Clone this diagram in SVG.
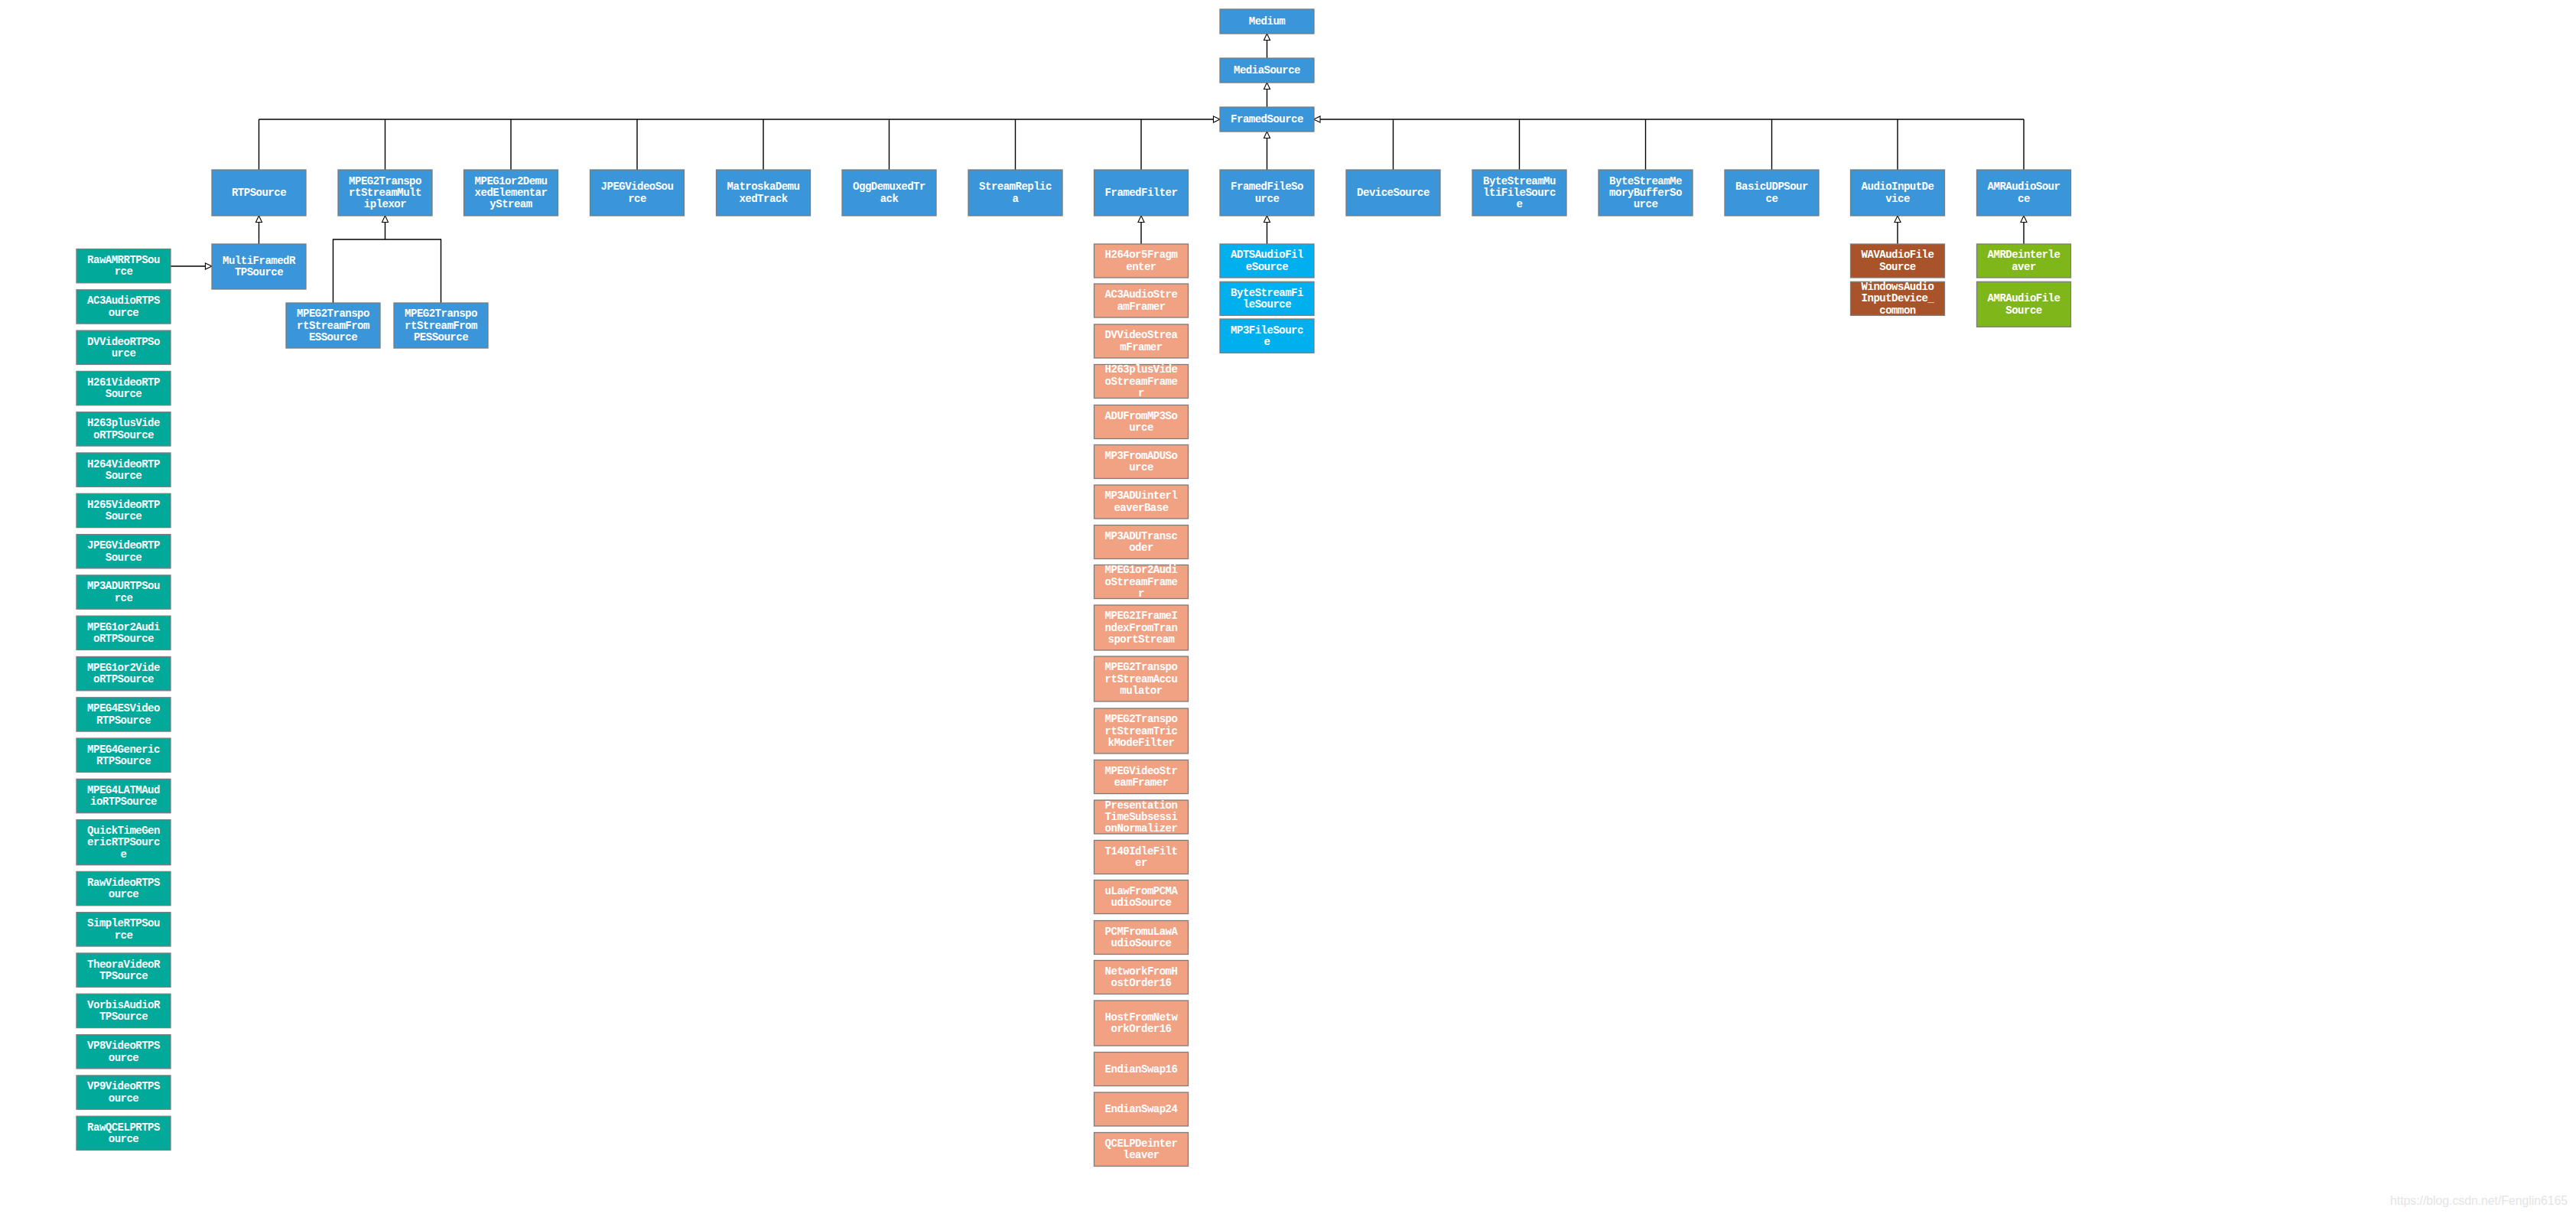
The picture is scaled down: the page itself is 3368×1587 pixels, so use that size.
<svg xmlns="http://www.w3.org/2000/svg" width="3368" height="1587" viewBox="0 0 3368 1587">
<style>
g rect{stroke:#7c7c7c;stroke-width:1.3}
.b{fill:#3A96D8}
.t{fill:#00A99A}
.s{fill:#F0A283}
.c{fill:#00B0EE}
.r{fill:#A9532A}
.g{fill:#7FB71A}
text.l{font-family:"Liberation Mono",monospace;font-weight:bold;font-size:14px;letter-spacing:-0.5px;fill:#fff;text-anchor:middle;dominant-baseline:central}
.wm{font-family:"Liberation Sans",Arial,sans-serif;font-size:16px;fill:#e4e4e4}
#conn path{fill:none;stroke:#000;stroke-width:1.4}
</style>
<defs>
<marker id="tri" viewBox="0 0 10 10" refX="10" refY="5" markerWidth="10" markerHeight="9" markerUnits="userSpaceOnUse" orient="auto" overflow="visible">
<path d="M0.5,0.5 L10,5 L0.5,9.5 z" fill="#fff" stroke="#000" stroke-width="1.2"/>
</marker>
</defs>
<rect x="0" y="0" width="3368" height="1587" fill="#fff"/>

<g id="conn">
<path d="M1656.5,76 V44" marker-end="url(#tri)"/>
<path d="M1656.5,140 V108" marker-end="url(#tri)"/>
<path d="M1656.5,222 V172" marker-end="url(#tri)"/>
<path d="M338.5,156 H1595" marker-end="url(#tri)"/>
<path d="M2646,156 H1717.5" marker-end="url(#tri)"/>
<path d="M338.5,222 V156"/>
<path d="M503.5,222 V156"/>
<path d="M668,222 V156"/>
<path d="M833,222 V156"/>
<path d="M998,222 V156"/>
<path d="M1162.5,222 V156"/>
<path d="M1327.5,222 V156"/>
<path d="M1492,222 V156"/>
<path d="M1821.5,222 V156"/>
<path d="M1986.5,222 V156"/>
<path d="M2151.5,222 V156"/>
<path d="M2316.5,222 V156"/>
<path d="M2481,222 V156"/>
<path d="M2646,222 V156"/>
<path d="M338.5,319 V282" marker-end="url(#tri)"/>
<path d="M223,348 H277" marker-end="url(#tri)"/>
<path d="M435.5,396 V313 H576.5 V396"/>
<path d="M503.5,313 V282" marker-end="url(#tri)"/>
<path d="M1492,319 V282" marker-end="url(#tri)"/>
<path d="M1656.5,319 V282" marker-end="url(#tri)"/>
<path d="M2481,319 V282" marker-end="url(#tri)"/>
<path d="M2646,319 V282" marker-end="url(#tri)"/>
</g>

<g id="n-Medium"><rect class="b" x="1595" y="12" width="123" height="32"/><text class="l" x="1656.5" y="28">Medium</text></g>
<g id="n-MediaSource"><rect class="b" x="1595" y="76" width="123" height="32"/><text class="l" x="1656.5" y="92">MediaSource</text></g>
<g id="n-FramedSource"><rect class="b" x="1595" y="140" width="123" height="32"/><text class="l" x="1656.5" y="156">FramedSource</text></g>

<g id="n-RTPSource"><rect class="b" x="277" y="222" width="123" height="60"/><text class="l" x="338.5" y="252">RTPSource</text></g>
<g id="n-MPEG2TransportStreamMultiplexor"><rect class="b" x="442" y="222" width="123" height="60"/><text class="l"><tspan x="503.5" y="236.6">MPEG2Transpo</tspan><tspan x="503.5" y="252">rtStreamMult</tspan><tspan x="503.5" y="267.4">iplexor</tspan></text></g>
<g id="n-MPEG1or2DemuxedElementaryStream"><rect class="b" x="606.5" y="222" width="123" height="60"/><text class="l"><tspan x="668" y="236.6">MPEG1or2Demu</tspan><tspan x="668" y="252">xedElementar</tspan><tspan x="668" y="267.4">yStream</tspan></text></g>
<g id="n-JPEGVideoSource"><rect class="b" x="771.5" y="222" width="123" height="60"/><text class="l"><tspan x="833" y="244.3">JPEGVideoSou</tspan><tspan x="833" y="259.7">rce</tspan></text></g>
<g id="n-MatroskaDemuxedTrack"><rect class="b" x="936.5" y="222" width="123" height="60"/><text class="l"><tspan x="998" y="244.3">MatroskaDemu</tspan><tspan x="998" y="259.7">xedTrack</tspan></text></g>
<g id="n-OggDemuxedTrack"><rect class="b" x="1101" y="222" width="123" height="60"/><text class="l"><tspan x="1162.5" y="244.3">OggDemuxedTr</tspan><tspan x="1162.5" y="259.7">ack</tspan></text></g>
<g id="n-StreamReplica"><rect class="b" x="1266" y="222" width="123" height="60"/><text class="l"><tspan x="1327.5" y="244.3">StreamReplic</tspan><tspan x="1327.5" y="259.7">a</tspan></text></g>
<g id="n-FramedFilter"><rect class="b" x="1430.5" y="222" width="123" height="60"/><text class="l" x="1492" y="252">FramedFilter</text></g>
<g id="n-FramedFileSource"><rect class="b" x="1595" y="222" width="123" height="60"/><text class="l"><tspan x="1656.5" y="244.3">FramedFileSo</tspan><tspan x="1656.5" y="259.7">urce</tspan></text></g>
<g id="n-DeviceSource"><rect class="b" x="1760" y="222" width="123" height="60"/><text class="l" x="1821.5" y="252">DeviceSource</text></g>
<g id="n-ByteStreamMultiFileSource"><rect class="b" x="1925" y="222" width="123" height="60"/><text class="l"><tspan x="1986.5" y="236.6">ByteStreamMu</tspan><tspan x="1986.5" y="252">ltiFileSourc</tspan><tspan x="1986.5" y="267.4">e</tspan></text></g>
<g id="n-ByteStreamMemoryBufferSource"><rect class="b" x="2090" y="222" width="123" height="60"/><text class="l"><tspan x="2151.5" y="236.6">ByteStreamMe</tspan><tspan x="2151.5" y="252">moryBufferSo</tspan><tspan x="2151.5" y="267.4">urce</tspan></text></g>
<g id="n-BasicUDPSource"><rect class="b" x="2255" y="222" width="123" height="60"/><text class="l"><tspan x="2316.5" y="244.3">BasicUDPSour</tspan><tspan x="2316.5" y="259.7">ce</tspan></text></g>
<g id="n-AudioInputDevice"><rect class="b" x="2419.5" y="222" width="123" height="60"/><text class="l"><tspan x="2481" y="244.3">AudioInputDe</tspan><tspan x="2481" y="259.7">vice</tspan></text></g>
<g id="n-AMRAudioSource"><rect class="b" x="2584.5" y="222" width="123" height="60"/><text class="l"><tspan x="2646" y="244.3">AMRAudioSour</tspan><tspan x="2646" y="259.7">ce</tspan></text></g>

<g id="n-MultiFramedRTPSource"><rect class="b" x="277" y="319" width="123" height="59"/><text class="l"><tspan x="338.5" y="340.8">MultiFramedR</tspan><tspan x="338.5" y="356.2">TPSource</tspan></text></g>
<g id="n-MPEG2TransportStreamFromESSource"><rect class="b" x="374" y="396" width="123" height="59"/><text class="l"><tspan x="435.5" y="410.1">MPEG2Transpo</tspan><tspan x="435.5" y="425.5">rtStreamFrom</tspan><tspan x="435.5" y="440.9">ESSource</tspan></text></g>
<g id="n-MPEG2TransportStreamFromPESSource"><rect class="b" x="515" y="396" width="123" height="59"/><text class="l"><tspan x="576.5" y="410.1">MPEG2Transpo</tspan><tspan x="576.5" y="425.5">rtStreamFrom</tspan><tspan x="576.5" y="440.9">PESSource</tspan></text></g>

<g id="n-RawAMRRTPSource"><rect class="t" x="100" y="325.5" width="123" height="44.3"/><text class="l"><tspan x="161.5" y="340">RawAMRRTPSou</tspan><tspan x="161.5" y="355.4">rce</tspan></text></g>
<g id="n-AC3AudioRTPSource"><rect class="t" x="100" y="378.8" width="123" height="44.3"/><text class="l"><tspan x="161.5" y="393.3">AC3AudioRTPS</tspan><tspan x="161.5" y="408.7">ource</tspan></text></g>
<g id="n-DVVideoRTPSource"><rect class="t" x="100" y="432.1" width="123" height="44.3"/><text class="l"><tspan x="161.5" y="446.6">DVVideoRTPSo</tspan><tspan x="161.5" y="462">urce</tspan></text></g>
<g id="n-H261VideoRTPSource"><rect class="t" x="100" y="485.4" width="123" height="44.3"/><text class="l"><tspan x="161.5" y="499.9">H261VideoRTP</tspan><tspan x="161.5" y="515.3">Source</tspan></text></g>
<g id="n-H263plusVideoRTPSource"><rect class="t" x="100" y="538.7" width="123" height="44.3"/><text class="l"><tspan x="161.5" y="553.2">H263plusVide</tspan><tspan x="161.5" y="568.6">oRTPSource</tspan></text></g>
<g id="n-H264VideoRTPSource"><rect class="t" x="100" y="592" width="123" height="44.3"/><text class="l"><tspan x="161.5" y="606.5">H264VideoRTP</tspan><tspan x="161.5" y="621.9">Source</tspan></text></g>
<g id="n-H265VideoRTPSource"><rect class="t" x="100" y="645.3" width="123" height="44.3"/><text class="l"><tspan x="161.5" y="659.8">H265VideoRTP</tspan><tspan x="161.5" y="675.2">Source</tspan></text></g>
<g id="n-JPEGVideoRTPSource"><rect class="t" x="100" y="698.6" width="123" height="44.3"/><text class="l"><tspan x="161.5" y="713.1">JPEGVideoRTP</tspan><tspan x="161.5" y="728.5">Source</tspan></text></g>
<g id="n-MP3ADURTPSource"><rect class="t" x="100" y="751.9" width="123" height="44.3"/><text class="l"><tspan x="161.5" y="766.4">MP3ADURTPSou</tspan><tspan x="161.5" y="781.8">rce</tspan></text></g>
<g id="n-MPEG1or2AudioRTPSource"><rect class="t" x="100" y="805.2" width="123" height="44.3"/><text class="l"><tspan x="161.5" y="819.7">MPEG1or2Audi</tspan><tspan x="161.5" y="835.1">oRTPSource</tspan></text></g>
<g id="n-MPEG1or2VideoRTPSource"><rect class="t" x="100" y="858.5" width="123" height="44.3"/><text class="l"><tspan x="161.5" y="873">MPEG1or2Vide</tspan><tspan x="161.5" y="888.4">oRTPSource</tspan></text></g>
<g id="n-MPEG4ESVideoRTPSource"><rect class="t" x="100" y="911.8" width="123" height="44.3"/><text class="l"><tspan x="161.5" y="926.3">MPEG4ESVideo</tspan><tspan x="161.5" y="941.7">RTPSource</tspan></text></g>
<g id="n-MPEG4GenericRTPSource"><rect class="t" x="100" y="965.1" width="123" height="44.3"/><text class="l"><tspan x="161.5" y="979.6">MPEG4Generic</tspan><tspan x="161.5" y="995">RTPSource</tspan></text></g>
<g id="n-MPEG4LATMAudioRTPSource"><rect class="t" x="100" y="1018.4" width="123" height="44.3"/><text class="l"><tspan x="161.5" y="1032.9">MPEG4LATMAud</tspan><tspan x="161.5" y="1048.3">ioRTPSource</tspan></text></g>
<g id="n-QuickTimeGenericRTPSource"><rect class="t" x="100" y="1071.7" width="123" height="59"/><text class="l"><tspan x="161.5" y="1085.8">QuickTimeGen</tspan><tspan x="161.5" y="1101.2">ericRTPSourc</tspan><tspan x="161.5" y="1116.6">e</tspan></text></g>
<g id="n-RawVideoRTPSource"><rect class="t" x="100" y="1139.4" width="123" height="44.3"/><text class="l"><tspan x="161.5" y="1153.9">RawVideoRTPS</tspan><tspan x="161.5" y="1169.3">ource</tspan></text></g>
<g id="n-SimpleRTPSource"><rect class="t" x="100" y="1192.7" width="123" height="44.3"/><text class="l"><tspan x="161.5" y="1207.2">SimpleRTPSou</tspan><tspan x="161.5" y="1222.6">rce</tspan></text></g>
<g id="n-TheoraVideoRTPSource"><rect class="t" x="100" y="1246" width="123" height="44.3"/><text class="l"><tspan x="161.5" y="1260.5">TheoraVideoR</tspan><tspan x="161.5" y="1275.9">TPSource</tspan></text></g>
<g id="n-VorbisAudioRTPSource"><rect class="t" x="100" y="1299.3" width="123" height="44.3"/><text class="l"><tspan x="161.5" y="1313.8">VorbisAudioR</tspan><tspan x="161.5" y="1329.2">TPSource</tspan></text></g>
<g id="n-VP8VideoRTPSource"><rect class="t" x="100" y="1352.6" width="123" height="44.3"/><text class="l"><tspan x="161.5" y="1367.1">VP8VideoRTPS</tspan><tspan x="161.5" y="1382.5">ource</tspan></text></g>
<g id="n-VP9VideoRTPSource"><rect class="t" x="100" y="1405.9" width="123" height="44.3"/><text class="l"><tspan x="161.5" y="1420.4">VP9VideoRTPS</tspan><tspan x="161.5" y="1435.8">ource</tspan></text></g>
<g id="n-RawQCELPRTPSource"><rect class="t" x="100" y="1459.2" width="123" height="44.3"/><text class="l"><tspan x="161.5" y="1473.7">RawQCELPRTPS</tspan><tspan x="161.5" y="1489.1">ource</tspan></text></g>

<g id="n-H264or5Fragmenter"><rect class="s" x="1430.5" y="319" width="123" height="44"/><text class="l"><tspan x="1492" y="333.3">H264or5Fragm</tspan><tspan x="1492" y="348.7">enter</tspan></text></g>
<g id="n-AC3AudioStreamFramer"><rect class="s" x="1430.5" y="371" width="123" height="44"/><text class="l"><tspan x="1492" y="385.3">AC3AudioStre</tspan><tspan x="1492" y="400.7">amFramer</tspan></text></g>
<g id="n-DVVideoStreamFramer"><rect class="s" x="1430.5" y="424" width="123" height="44"/><text class="l"><tspan x="1492" y="438.3">DVVideoStrea</tspan><tspan x="1492" y="453.7">mFramer</tspan></text></g>
<g id="n-H263plusVideoStreamFramer"><rect class="s" x="1430.5" y="476.5" width="123" height="44"/><text class="l"><tspan x="1492" y="483.1">H263plusVide</tspan><tspan x="1492" y="498.5">oStreamFrame</tspan><tspan x="1492" y="513.9">r</tspan></text></g>
<g id="n-ADUFromMP3Source"><rect class="s" x="1430.5" y="529.5" width="123" height="44"/><text class="l"><tspan x="1492" y="543.8">ADUFromMP3So</tspan><tspan x="1492" y="559.2">urce</tspan></text></g>
<g id="n-MP3FromADUSource"><rect class="s" x="1430.5" y="581.5" width="123" height="44"/><text class="l"><tspan x="1492" y="595.8">MP3FromADUSo</tspan><tspan x="1492" y="611.2">urce</tspan></text></g>
<g id="n-MP3ADUinterleaverBase"><rect class="s" x="1430.5" y="634" width="123" height="44"/><text class="l"><tspan x="1492" y="648.3">MP3ADUinterl</tspan><tspan x="1492" y="663.7">eaverBase</tspan></text></g>
<g id="n-MP3ADUTranscoder"><rect class="s" x="1430.5" y="686.5" width="123" height="44"/><text class="l"><tspan x="1492" y="700.8">MP3ADUTransc</tspan><tspan x="1492" y="716.2">oder</tspan></text></g>
<g id="n-MPEG1or2AudioStreamFramer"><rect class="s" x="1430.5" y="738.5" width="123" height="44"/><text class="l"><tspan x="1492" y="745.1">MPEG1or2Audi</tspan><tspan x="1492" y="760.5">oStreamFrame</tspan><tspan x="1492" y="775.9">r</tspan></text></g>
<g id="n-MPEG2IFrameIndexFromTransportStream"><rect class="s" x="1430.5" y="791" width="123" height="59"/><text class="l"><tspan x="1492" y="805.1">MPEG2IFrameI</tspan><tspan x="1492" y="820.5">ndexFromTran</tspan><tspan x="1492" y="835.9">sportStream</tspan></text></g>
<g id="n-MPEG2TransportStreamAccumulator"><rect class="s" x="1430.5" y="858" width="123" height="59"/><text class="l"><tspan x="1492" y="872.1">MPEG2Transpo</tspan><tspan x="1492" y="887.5">rtStreamAccu</tspan><tspan x="1492" y="902.9">mulator</tspan></text></g>
<g id="n-MPEG2TransportStreamTrickModeFilter"><rect class="s" x="1430.5" y="926" width="123" height="59"/><text class="l"><tspan x="1492" y="940.1">MPEG2Transpo</tspan><tspan x="1492" y="955.5">rtStreamTric</tspan><tspan x="1492" y="970.9">kModeFilter</tspan></text></g>
<g id="n-MPEGVideoStreamFramer"><rect class="s" x="1430.5" y="993.5" width="123" height="44"/><text class="l"><tspan x="1492" y="1007.8">MPEGVideoStr</tspan><tspan x="1492" y="1023.2">eamFramer</tspan></text></g>
<g id="n-PresentationTimeSubsessionNormalizer"><rect class="s" x="1430.5" y="1046" width="123" height="44"/><text class="l"><tspan x="1492" y="1052.6">Presentation</tspan><tspan x="1492" y="1068">TimeSubsessi</tspan><tspan x="1492" y="1083.4">onNormalizer</tspan></text></g>
<g id="n-T140IdleFilter"><rect class="s" x="1430.5" y="1098.5" width="123" height="44"/><text class="l"><tspan x="1492" y="1112.8">T140IdleFilt</tspan><tspan x="1492" y="1128.2">er</tspan></text></g>
<g id="n-uLawFromPCMAudioSource"><rect class="s" x="1430.5" y="1150.5" width="123" height="44"/><text class="l"><tspan x="1492" y="1164.8">uLawFromPCMA</tspan><tspan x="1492" y="1180.2">udioSource</tspan></text></g>
<g id="n-PCMFromuLawAudioSource"><rect class="s" x="1430.5" y="1203.5" width="123" height="44"/><text class="l"><tspan x="1492" y="1217.8">PCMFromuLawA</tspan><tspan x="1492" y="1233.2">udioSource</tspan></text></g>
<g id="n-NetworkFromHostOrder16"><rect class="s" x="1430.5" y="1255.5" width="123" height="44"/><text class="l"><tspan x="1492" y="1269.8">NetworkFromH</tspan><tspan x="1492" y="1285.2">ostOrder16</tspan></text></g>
<g id="n-HostFromNetworkOrder16"><rect class="s" x="1430.5" y="1308" width="123" height="59"/><text class="l"><tspan x="1492" y="1329.8">HostFromNetw</tspan><tspan x="1492" y="1345.2">orkOrder16</tspan></text></g>
<g id="n-EndianSwap16"><rect class="s" x="1430.5" y="1375.5" width="123" height="44"/><text class="l" x="1492" y="1397.5">EndianSwap16</text></g>
<g id="n-EndianSwap24"><rect class="s" x="1430.5" y="1428" width="123" height="44"/><text class="l" x="1492" y="1450">EndianSwap24</text></g>
<g id="n-QCELPDeinterleaver"><rect class="s" x="1430.5" y="1480.5" width="123" height="44"/><text class="l"><tspan x="1492" y="1494.8">QCELPDeinter</tspan><tspan x="1492" y="1510.2">leaver</tspan></text></g>

<g id="n-ADTSAudioFileSource"><rect class="c" x="1595" y="319" width="123" height="44"/><text class="l"><tspan x="1656.5" y="333.3">ADTSAudioFil</tspan><tspan x="1656.5" y="348.7">eSource</tspan></text></g>
<g id="n-ByteStreamFileSource"><rect class="c" x="1595" y="368.3" width="123" height="44"/><text class="l"><tspan x="1656.5" y="382.6">ByteStreamFi</tspan><tspan x="1656.5" y="398">leSource</tspan></text></g>
<g id="n-MP3FileSource"><rect class="c" x="1595" y="417" width="123" height="44.3"/><text class="l"><tspan x="1656.5" y="431.5">MP3FileSourc</tspan><tspan x="1656.5" y="446.9">e</tspan></text></g>

<g id="n-WAVAudioFileSource"><rect class="r" x="2419.5" y="319" width="123" height="44"/><text class="l"><tspan x="2481" y="333.3">WAVAudioFile</tspan><tspan x="2481" y="348.7">Source</tspan></text></g>
<g id="n-WindowsAudioInputDevice_common"><rect class="r" x="2419.5" y="368.3" width="123" height="44"/><text class="l"><tspan x="2481" y="374.9">WindowsAudio</tspan><tspan x="2481" y="390.3">InputDevice_</tspan><tspan x="2481" y="405.7">common</tspan></text></g>

<g id="n-AMRDeinterleaver"><rect class="g" x="2584.5" y="319" width="123" height="44"/><text class="l"><tspan x="2646" y="333.3">AMRDeinterle</tspan><tspan x="2646" y="348.7">aver</tspan></text></g>
<g id="n-AMRAudioFileSource"><rect class="g" x="2584.5" y="368.3" width="123" height="59"/><text class="l"><tspan x="2646" y="390.1">AMRAudioFile</tspan><tspan x="2646" y="405.5">Source</tspan></text></g>

<text class="wm" x="3125" y="1575" textLength="232" lengthAdjust="spacingAndGlyphs">https://blog.csdn.net/Fenglin6165</text>
</svg>
